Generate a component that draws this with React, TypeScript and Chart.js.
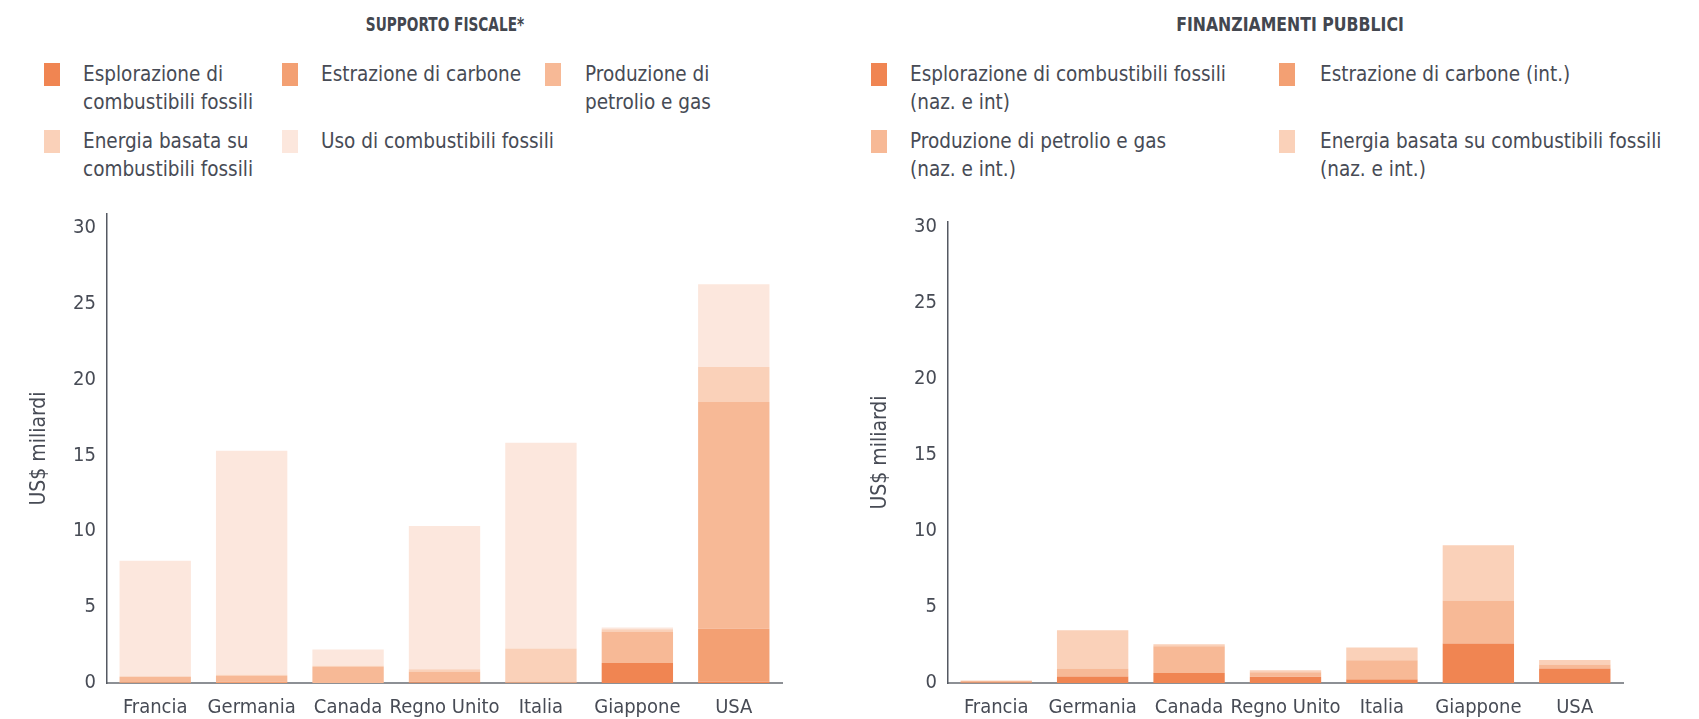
import React, { useEffect, useRef } from 'react';
import { Chart, registerables } from 'chart.js';

Chart.register(...registerables);

// ---------- DATA ----------
const categories = ['Francia', 'Germania', 'Canada', 'Regno Unito', 'Italia', 'Giappone', 'USA'];
const yTickValues = [0, 5, 10, 15, 20, 25, 30];

const fiscalTitle = 'SUPPORTO FISCALE*';
const publicTitle = 'FINANZIAMENTI PUBBLICI';
const yAxisTitle = 'US$ miliardi';

const fiscalLabels = [
  'Esplorazione di\ncombustibili fossili',
  'Estrazione di carbone',
  'Produzione di\npetrolio e gas',
  'Energia basata su\ncombustibili fossili',
  'Uso di combustibili fossili',
];
const fiscalEsplorazione = [0, 0, 0, 0.04, 0, 1.32, 0.1];
const fiscalEstrazione = [0.05, 0.1, 0, 0.06, 0.04, 0, 3.47];
const fiscalProduzione = [0.35, 0.38, 1.05, 0.65, 0.06, 2.07, 14.95];
const fiscalEnergia = [0.05, 0.07, 0.08, 0.15, 2.18, 0.15, 2.3];
const fiscalUso = [7.6, 14.75, 1.07, 9.45, 13.55, 0.12, 5.45];

const publicLabels = [
  'Esplorazione di combustibili fossili\n(naz. e int)',
  'Estrazione di carbone (int.)',
  'Produzione di petrolio e gas\n(naz. e int.)',
  'Energia basata su combustibili fossili\n(naz. e int.)',
];
const publicEsplorazione = [0.03, 0.43, 0.66, 0.4, 0.22, 2.59, 0.96];
const publicEstrazione = [0, 0, 0, 0.02, 0.05, 0, 0];
const publicProduzione = [0.1, 0.53, 1.75, 0.28, 1.22, 2.84, 0.25];
const publicEnergia = [0.04, 2.5, 0.13, 0.13, 0.85, 3.62, 0.3];

const seriesColors = ['#f08552', '#f3a073', '#f7b996', '#fad1b9', '#fce7dd'];

// ---------- STYLE ----------
const FONT = "'DejaVu Sans Condensed', 'DejaVu Sans', sans-serif";
const TEXT = '#474b55';

type Series = { label: string; data: number[] };

function BarPanel(props: { left: number; padTop: number; yMax: number; series: Series[] }) {
  const ref = useRef<HTMLCanvasElement>(null);
  useEffect(() => {
    const chart = new Chart(ref.current!, {
      type: 'bar',
      data: {
        labels: categories,
        datasets: props.series.map((s, i) => ({
          label: s.label,
          data: s.data,
          backgroundColor: seriesColors[i],
          borderWidth: 0,
          categoryPercentage: 1,
          barPercentage: 0.74,
        })),
      },
      options: {
        animation: false,
        responsive: false,
        maintainAspectRatio: false,
        layout: { padding: { top: props.padTop, right: 18, left: 0, bottom: 7 } },
        plugins: { legend: { display: false }, tooltip: { enabled: false }, title: { display: false } },
        scales: {
          x: {
            stacked: true,
            z: 1,
            grid: { display: false, drawTicks: false },
            border: { display: true, color: '#8d9095', width: 2 },
            ticks: {
              padding: 13,
              color: TEXT,
              autoSkip: false,
              maxRotation: 0,
              minRotation: 0,
              font: { family: FONT, size: 20 },
            },
            afterFit: (s: any) => {
              s.height = 36;
            },
          },
          y: {
            stacked: true,
            min: 0,
            max: props.yMax,
            grid: { display: false, drawTicks: false },
            border: { display: true, color: '#555962', width: 1.5 },
            afterBuildTicks: (axis: any) => {
              axis.ticks = yTickValues.map((v) => ({ value: v }));
            },
            ticks: {
              stepSize: 5,
              includeBounds: false,
              padding: 11,
              color: TEXT,
              font: { family: FONT, size: 20 },
            },
            title: {
              display: true,
              text: yAxisTitle,
              color: TEXT,
              font: { family: FONT, size: 21 },
              padding: { top: 27.4, bottom: 0 },
            },
            afterFit: (s: any) => {
              s.width = 107;
            },
          },
        },
      } as any,
    });
    return () => chart.destroy();
  }, []);
  return (
    <canvas
      ref={ref}
      width={800}
      height={536}
      style={{ position: 'absolute', left: props.left, top: 190, width: 800, height: 536 }}
    />
  );
}

function LegendItem(props: { boxX: number; textX: number; top: number; color: string; text: string }) {
  return (
    <>
      <div
        style={{
          position: 'absolute',
          left: props.boxX,
          top: props.top + 3,
          width: 16,
          height: 23,
          background: props.color,
        }}
      />
      <div
        style={{
          position: 'absolute',
          left: props.textX,
          top: props.top,
          fontFamily: FONT,
          fontSize: 20.5,
          lineHeight: '28px',
          color: TEXT,
          whiteSpace: 'pre',
        }}
      >
        {props.text}
      </div>
    </>
  );
}

function Title(props: { cx: number; text: string; sx: number }) {
  return (
    <div
      style={{
        position: 'absolute',
        left: props.cx,
        top: 12,
        transform: `translateX(-50%) scaleX(${props.sx})`,
        fontFamily: FONT,
        fontWeight: 'bold',
        fontSize: 19,
        lineHeight: '24px',
        color: '#43474f',
        whiteSpace: 'nowrap',
      }}
    >
      {props.text}
    </div>
  );
}

export default function App() {
  const fiscalSeries: Series[] = [
    { label: fiscalLabels[0], data: fiscalEsplorazione },
    { label: fiscalLabels[1], data: fiscalEstrazione },
    { label: fiscalLabels[2], data: fiscalProduzione },
    { label: fiscalLabels[3], data: fiscalEnergia },
    { label: fiscalLabels[4], data: fiscalUso },
  ];
  const publicSeries: Series[] = [
    { label: publicLabels[0], data: publicEsplorazione },
    { label: publicLabels[1], data: publicEstrazione },
    { label: publicLabels[2], data: publicProduzione },
    { label: publicLabels[3], data: publicEnergia },
  ];
  const fiscalPos = [
    { boxX: 44, textX: 83, top: 60 },
    { boxX: 282, textX: 321, top: 60 },
    { boxX: 545, textX: 585, top: 60 },
    { boxX: 44, textX: 83, top: 127 },
    { boxX: 282, textX: 321, top: 127 },
  ];
  const publicPos = [
    { boxX: 871, textX: 910, top: 60 },
    { boxX: 1279, textX: 1320, top: 60 },
    { boxX: 871, textX: 910, top: 127 },
    { boxX: 1279, textX: 1320, top: 127 },
  ];
  return (
    <div style={{ position: 'absolute', left: 0, top: 0, width: 1699, height: 719, background: '#ffffff', overflow: 'hidden' }}>
      <Title cx={445} text={fiscalTitle} sx={0.8} />
      <Title cx={1290} text={publicTitle} sx={0.92} />
      {fiscalLabels.map((t, i) => (
        <LegendItem key={'f' + i} {...fiscalPos[i]} color={seriesColors[i]} text={t} />
      ))}
      {publicLabels.map((t, i) => (
        <LegendItem key={'p' + i} {...publicPos[i]} color={seriesColors[i]} text={t} />
      ))}
      <BarPanel left={0} padTop={24} yMax={30.9} series={fiscalSeries} />
      <BarPanel left={841} padTop={32} yMax={30.3} series={publicSeries} />
    </div>
  );
}
